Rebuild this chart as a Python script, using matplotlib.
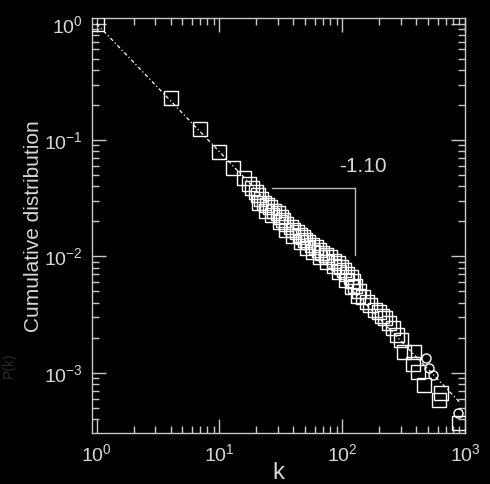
import matplotlib
matplotlib.use('Agg')
import matplotlib.pyplot as plt
import numpy as np

plt.rcParams['font.family'] = ['Liberation Sans', 'DejaVu Sans']
plt.rcParams['mathtext.fontset'] = 'custom'
plt.rcParams['mathtext.rm'] = 'Liberation Sans'

# cumulative distribution (main row of squares)
k_main = [1, 4, 7, 10, 13, 16, 17.5, 18.6, 19.7, 20.8, 22, 23, 24.5, 26, 28,
          30, 31.5, 33, 35, 38, 40, 43, 45, 48, 50, 53, 57, 61, 65, 69,
          74, 80, 86, 92, 97, 103, 110, 117, 122, 128, 138, 149, 160, 170, 184,
          198, 212, 225, 240, 257, 280, 299, 316, 381, 374, 411, 460, 633, 610, 887]
p_main = [1, 0.23, 0.124, 0.079, 0.057, 0.047, 0.042, 0.0385, 0.036, 0.0335,
          0.031, 0.029, 0.0277, 0.0264, 0.0248, 0.0234, 0.0218, 0.0204, 0.019, 0.0178,
          0.017, 0.0161, 0.0153, 0.0146, 0.0139, 0.0132, 0.0126, 0.0120, 0.0114, 0.0108,
          0.0103, 0.0098, 0.0092, 0.0087, 0.0081, 0.0076, 0.0071, 0.0066, 0.0061, 0.0056,
          0.0050, 0.00445, 0.0041, 0.0038, 0.0035, 0.0033, 0.0031, 0.00294, 0.0027, 0.00241,
          0.0021, 0.0019, 0.0015, 0.0015, 0.0012, 0.00101, 0.00078, 0.00067, 0.00058, 0.00037]

# second row of squares in the dense band
k_band = [21, 24, 27, 31, 35, 40, 46, 52, 58, 66, 75, 85, 95, 108, 120, 135]
p_band = [0.029, 0.0245, 0.0225, 0.0197, 0.0168, 0.015, 0.0132, 0.0118, 0.011,
          0.0099, 0.009, 0.0082, 0.0073, 0.0063, 0.0055, 0.0046]

# small round markers near the tail
k_circ = [478, 505, 544, 871]
p_circ = [0.00133, 0.00111, 0.00095, 0.00045]

slope = -1.10
k_fit = [1, 900]

fg = '#d8d8d8'

fig = plt.figure(figsize=(4.9, 4.84), dpi=100, facecolor='black')
ax = fig.add_axes([0.188, 0.105, 0.761, 0.857], facecolor='black')

kf = np.array(k_fit, dtype=float)
ax.plot(kf, kf ** slope, color='white', lw=0.9, ls=(0, (3, 2, 1, 2)), zorder=2)

ax.plot(k_main, p_main, ls='none', marker='s', ms=9.5, mfc='none',
        mec='white', mew=1.0, zorder=3)
ax.plot(k_band, p_band, ls='none', marker='s', ms=9.5, mfc='none',
        mec='white', mew=1.0, zorder=3)
ax.plot(k_circ, p_circ, ls='none', marker='o', ms=6.5, mfc='none',
        mec='white', mew=1.0, zorder=3)

# slope marker
ax.plot([27, 128], [0.0385, 0.0385], color='#bbbbbb', lw=1.0)
ax.plot([128, 128], [0.0385, 0.0102], color='#bbbbbb', lw=1.0)
ax.text(147, 0.0595, '-1.10', color=fg, fontsize=15, ha='center', va='center')

ax.set_xscale('log')
ax.set_yscale('log')
ax.set_xlim(0.92, 1000)
ax.set_ylim(3.03e-4, 1.11)

ax.set_xlabel('k', color=fg, fontsize=17)
ax.xaxis.set_label_coords(0.5, -0.07)
ax.set_ylabel('Cumulative distribution', color=fg, fontsize=15, va='center')
ax.yaxis.set_label_coords(-0.158, 0.5)

for s in ax.spines.values():
    s.set_color('#c8c8c8')
    s.set_linewidth(1.0)
ax.tick_params(which='both', direction='in', top=True, right=True,
               colors='#c8c8c8', labelcolor=fg, labelsize=14)
ax.tick_params(which='major', length=10, width=1.0, pad=7)
ax.tick_params(which='minor', length=5, width=1.0)

fig.text(0.018, 0.245, 'P(k)', color='#2a2a2a', fontsize=10, rotation=90,
         ha='center', va='center')

fig.savefig('out.png', dpi=100, facecolor='black')
